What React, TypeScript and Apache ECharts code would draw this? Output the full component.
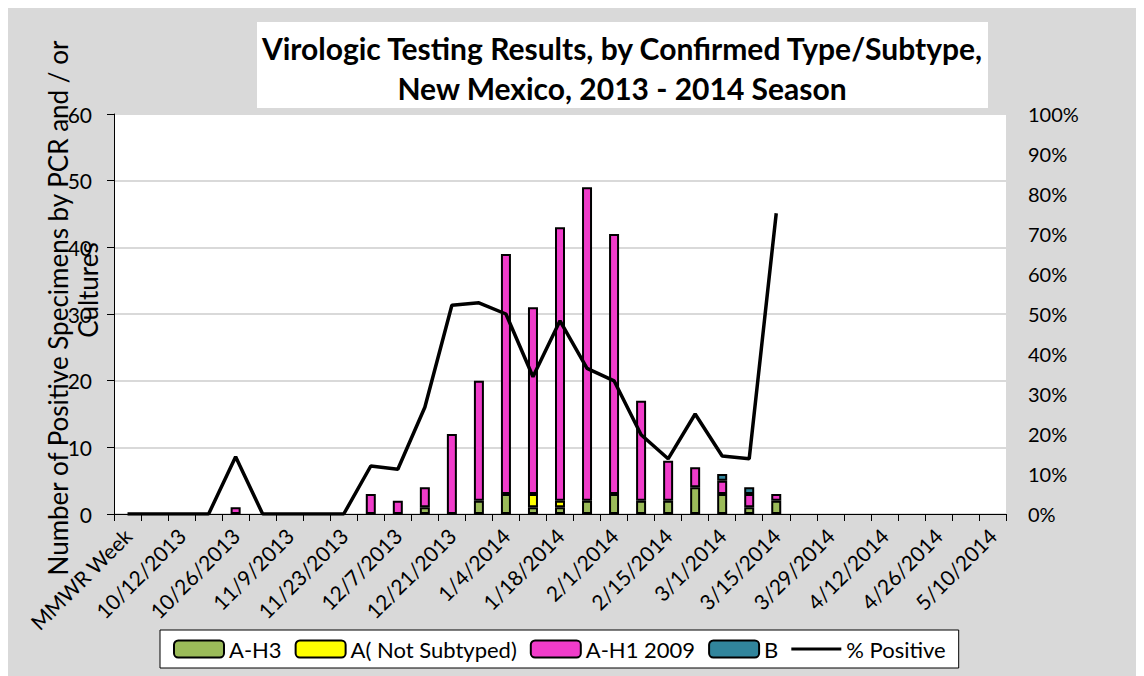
import React, { useEffect, useRef } from "react";
import * as echarts from "echarts";

const categories = [
  "MMWR Week", "10/5/2013", "10/12/2013", "10/19/2013", "10/26/2013", "11/2/2013", "11/9/2013",
  "11/16/2013", "11/23/2013", "11/30/2013", "12/7/2013", "12/14/2013", "12/21/2013", "12/28/2013",
  "1/4/2014", "1/11/2014", "1/18/2014", "1/25/2014", "2/1/2014", "2/8/2014", "2/15/2014",
  "2/22/2014", "3/1/2014", "3/8/2014", "3/15/2014", "3/22/2014", "3/29/2014", "4/5/2014",
  "4/12/2014", "4/19/2014", "4/26/2014", "5/3/2014", "5/10/2014",
];

const aH3 = [0, 0, 0, 0, 0, 0, 0, 0, 0, 0, 0, 1, 0, 2, 3, 1, 1, 2, 3, 2, 2, 4, 3, 1, 2, 0, 0, 0, 0, 0, 0, 0, 0];
const aNotSubtyped = [0, 0, 0, 0, 0, 0, 0, 0, 0, 0, 0, 0, 0, 0, 0, 2, 1, 0, 0, 0, 0, 0, 0, 0, 0, 0, 0, 0, 0, 0, 0, 0, 0];
const aH1_2009 = [0, 0, 0, 0, 1, 0, 0, 0, 0, 3, 2, 3, 12, 18, 36, 28, 41, 47, 39, 15, 6, 3, 2, 2, 1, 0, 0, 0, 0, 0, 0, 0, 0];
const bType = [0, 0, 0, 0, 0, 0, 0, 0, 0, 0, 0, 0, 0, 0, 0, 0, 0, 0, 0, 0, 0, 0, 1, 1, 0, 0, 0, 0, 0, 0, 0, 0, 0];
const pctPositive: (number | null)[] = [
  0, 0, 0, 0, 0.143, 0, 0, 0, 0, 0.12, 0.112, 0.267, 0.522, 0.528, 0.5, 0.343, 0.483, 0.364,
  0.333, 0.198, 0.138, 0.25, 0.145, 0.138, 0.752, null, null, null, null, null, null, null, null,
];

const leftMin = 0, leftMax = 60, leftStep = 10;
const rightMin = 0, rightMax = 1, rightStep = 0.1;

const FONT = "Lato";

export default function App() {
  const ref = useRef<HTMLDivElement>(null);
  useEffect(() => {
    if (!ref.current) return;
    const chart = echarts.init(ref.current, null, { renderer: "svg" });
    const toBar = (arr: number[]) => arr.map((v) => (v ? v : "-"));
    const barBase = {
      type: "bar",
      stack: "total",
      barWidth: 10,
      yAxisIndex: 0,
    };
    chart.setOption({
      animation: false,
      backgroundColor: "#d9d9d9",
      textStyle: { fontFamily: FONT },
      title: {
        text: "Virologic Testing Results, by Confirmed Type/Subtype,\nNew Mexico, 2013 - 2014 Season",
        left: 614,
        top: 20,
        padding: 0,
        textAlign: "center",
        textStyle: { fontFamily: FONT, fontWeight: "bold", fontSize: 30, lineHeight: 40, color: "#000" },
      },
      graphic: [
        {
          type: "rect",
          z: -1,
          shape: { x: 249, y: 14, width: 731, height: 86 },
          style: { fill: "#ffffff" },
        },
        {
          type: "text",
          x: 50,
          y: 300,
          rotation: Math.PI / 2,
          style: {
            text: "Number of Positive Specimens by PCR and / or",
            fontFamily: FONT,
            fontSize: 26,
            fill: "#000",
            textAlign: "center",
            textVerticalAlign: "middle",
          },
        },
        {
          type: "text",
          x: 80,
          y: 282,
          rotation: Math.PI / 2,
          style: {
            text: "Cultures",
            fontFamily: FONT,
            fontSize: 26,
            fill: "#000",
            textAlign: "center",
            textVerticalAlign: "middle",
          },
        },
      ],
      legend: {
        left: 152,
        top: 622,
        padding: [8, 13],
        itemGap: 13,
        itemWidth: 50,
        itemHeight: 17,
        backgroundColor: "#ffffff",
        borderColor: "#000",
        borderWidth: 1,
        textStyle: { fontFamily: FONT, fontSize: 22, color: "#000" },
        data: [
          "A-H3",
          "A( Not Subtyped)",
          "A-H1 2009",
          "B",
          {
            name: "% Positive",
            icon: "path://M0,0H50V3H0Z",
            itemStyle: { color: "#000", borderWidth: 0 },
          },
        ],
      },
      grid: {
        left: 106,
        top: 106,
        right: 138,
        bottom: 162,
        show: true,
        backgroundColor: "#ffffff",
        borderWidth: 0,
      },
      xAxis: {
        type: "category",
        data: categories,
        boundaryGap: true,
        axisLine: { lineStyle: { color: "#000", width: 1 } },
        axisTick: { show: true, interval: 0, length: 7, lineStyle: { color: "#000" } },
        axisLabel: {
          interval: 1,
          rotate: 45,
          fontSize: 21,
          color: "#000",
          margin: 18,
          fontFamily: FONT,
        },
        splitLine: { show: false },
      },
      yAxis: [
        {
          type: "value",
          min: leftMin,
          max: leftMax,
          interval: leftStep,
          axisLine: { show: true, lineStyle: { color: "#000", width: 1 } },
          axisTick: { show: true, length: 7, lineStyle: { color: "#000" } },
          axisLabel: { fontSize: 21, color: "#000", margin: 22, fontFamily: FONT },
          splitLine: { show: true, lineStyle: { color: "#d9d9d9", width: 2 } },
        },
        {
          type: "value",
          position: "right",
          min: rightMin,
          max: rightMax,
          interval: rightStep,
          axisLine: { show: false },
          axisTick: { show: false },
          splitLine: { show: false },
          axisLabel: {
            fontSize: 20,
            color: "#000",
            margin: 22,
            fontFamily: FONT,
            formatter: (v: number) => Math.round(v * 100) + "%",
          },
        },
      ],
      series: [
        {
          ...barBase,
          name: "A-H3",
          data: toBar(aH3),
          itemStyle: { color: "#9bbb59", borderColor: "#000", borderWidth: 2 },
        },
        {
          ...barBase,
          name: "A( Not Subtyped)",
          data: toBar(aNotSubtyped),
          itemStyle: { color: "#ffff00", borderColor: "#000", borderWidth: 2 },
        },
        {
          ...barBase,
          name: "A-H1 2009",
          data: toBar(aH1_2009),
          itemStyle: { color: "#f03cca", borderColor: "#000", borderWidth: 2 },
        },
        {
          ...barBase,
          name: "B",
          data: toBar(bType),
          itemStyle: { color: "#31859c", borderColor: "#000", borderWidth: 2 },
        },
        {
          type: "line",
          name: "% Positive",
          yAxisIndex: 1,
          data: pctPositive,
          symbol: "none",
          connectNulls: false,
          lineStyle: { color: "#000", width: 3.5 },
          itemStyle: { color: "#000" },
          z: 3,
        },
      ],
    });
    return () => chart.dispose();
  }, []);
  return <div ref={ref} style={{ width: 1136, height: 668 }} />;
}
